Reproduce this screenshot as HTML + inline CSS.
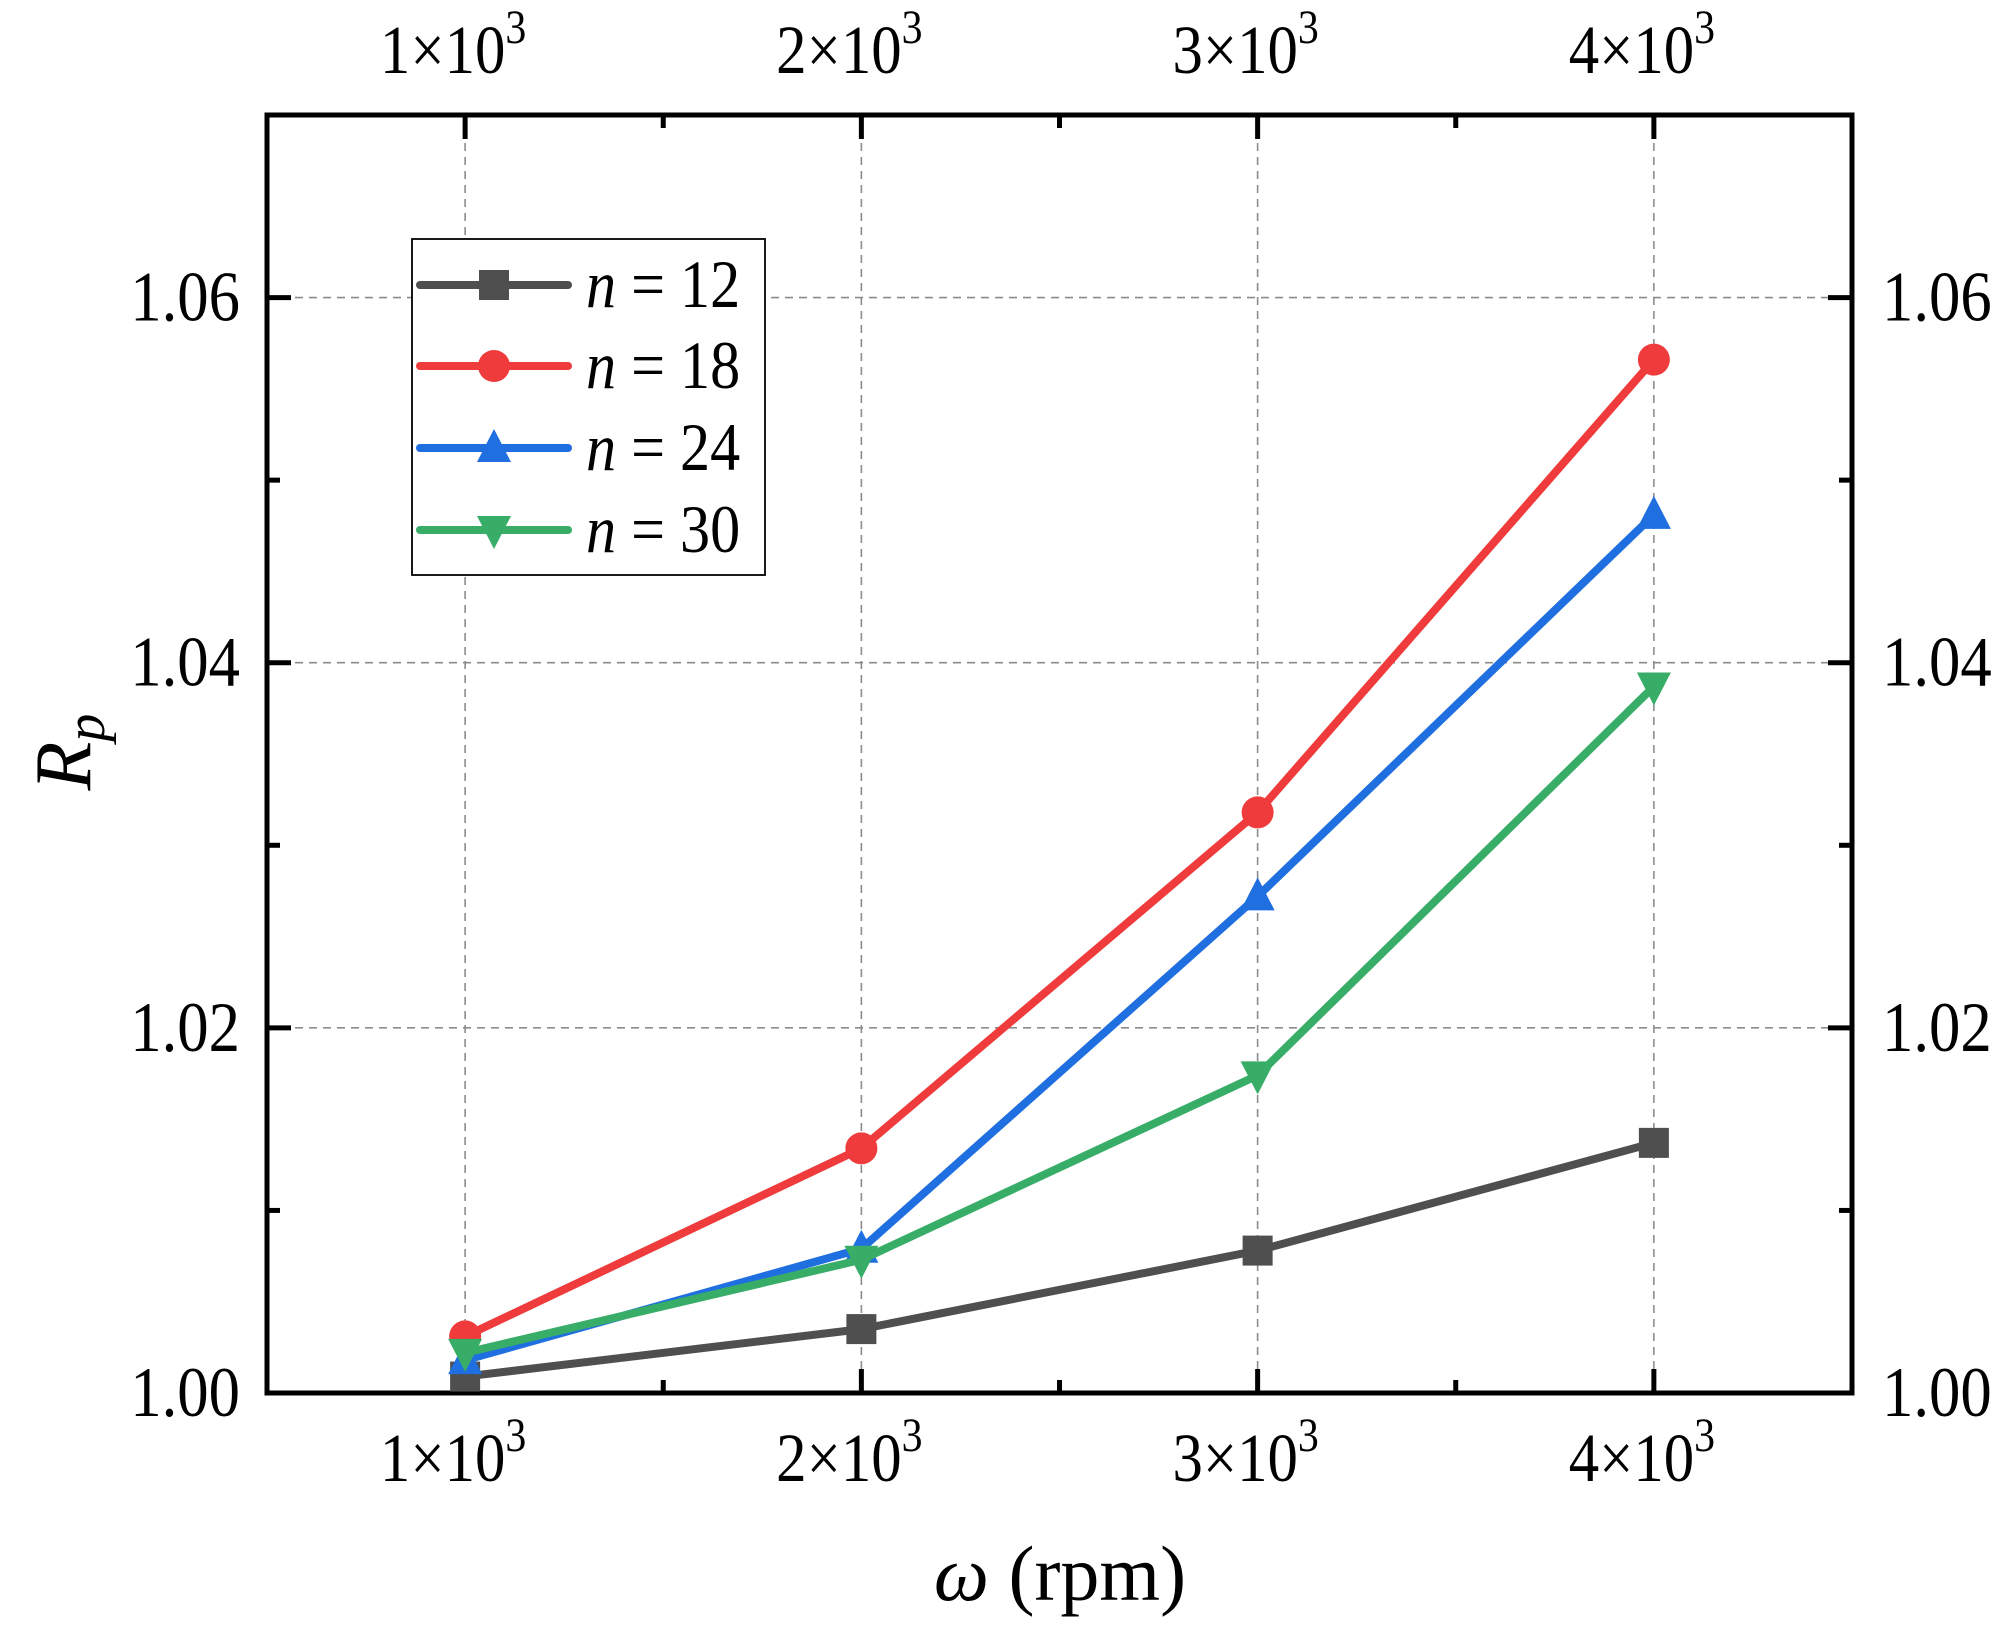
<!DOCTYPE html>
<html><head><meta charset="utf-8"><style>
html,body{margin:0;padding:0;background:#fff;}
svg{display:block;font-family:"Liberation Serif",serif;}
</style></head><body>
<svg id="chart" width="2000" height="1626" viewBox="0 0 2000 1626" xmlns="http://www.w3.org/2000/svg">
<g id="grid"></g>
<g id="axes"></g>
<g id="series"></g>
<g id="legend"></g>
</svg>
<script>
const xCats = [1000, 2000, 3000, 4000];
const xTickLabels = ["1\u00d710", "2\u00d710", "3\u00d710", "4\u00d710"];
const yTicks = [1.00, 1.02, 1.04, 1.06];
const yTickLabels = ["1.00", "1.02", "1.04", "1.06"];
const seriesNames = ["n = 12", "n = 18", "n = 24", "n = 30"];
const s12 = [1.0009, 1.0035, 1.0078, 1.0137];
const s18 = [1.0031, 1.0134, 1.0318, 1.0566];
const s24 = [1.0018, 1.0079, 1.0272, 1.0481];
const s30 = [1.0022, 1.0073, 1.0174, 1.0387];

const NS = "http://www.w3.org/2000/svg";
const L = 267, R = 1852, T = 115, B = 1393;
const xMin = 500, xMax = 4500, yMin = 1.0, yMax = 1.07;
const xs = v => L + (v - xMin) / (xMax - xMin) * (R - L);
const ys = v => B - (v - yMin) / (yMax - yMin) * (B - T);
function mk(tag, attrs, parent, text) {
  const e = document.createElementNS(NS, tag);
  for (const k in attrs) e.setAttribute(k, attrs[k]);
  if (text !== undefined) e.textContent = text;
  parent.appendChild(e);
  return e;
}
const grid = document.getElementById('grid');
const axes = document.getElementById('axes');
const series = document.getElementById('series');
const legend = document.getElementById('legend');

xCats.forEach(v => {
  const g = mk('line', {x1: xs(v), x2: xs(v), y1: T, y2: B, stroke: '#8c8c8c', 'stroke-width': 1.6, 'stroke-dasharray': '8,6'}, grid);
  
  
});
yTicks.forEach(v => {
  const g = mk('line', {x1: L, x2: R, y1: ys(v), y2: ys(v), stroke: '#8c8c8c', 'stroke-width': 1.6, 'stroke-dasharray': '8,6'}, grid);
  
  
});

const tk = {stroke: '#000', 'stroke-width': 5};
[500, 1000, 1500, 2000, 2500, 3000, 3500, 4000, 4500].forEach(v => {
  const major = xCats.includes(v);
  const len = major ? 24 : 13;
  const a = mk('line', Object.assign({x1: xs(v), x2: xs(v), y1: B, y2: B - len}, tk), axes);
  
  
  const b = mk('line', Object.assign({x1: xs(v), x2: xs(v), y1: T, y2: T + len}, tk), axes);
  
  
});
for (let i = 0; i <= 7; i++) {
  const v = 1.0 + i * 0.01;
  const major = i % 2 === 0 && i <= 6;
  const len = major ? 24 : 13;
  const a = mk('line', Object.assign({x1: L, x2: L + len, y1: ys(v), y2: ys(v)}, tk), axes);
  
  
  const b = mk('line', Object.assign({x1: R, x2: R - len, y1: ys(v), y2: ys(v)}, tk), axes);
  
  
}
const frame = mk('rect', {x: L, y: T, width: R - L, height: B - T, fill: 'none', stroke: '#000', 'stroke-width': 5}, axes);



xCats.forEach((v, i) => {
  [[1481, 'x-tick-label-bottom'], [73, 'x-tick-label-top']].forEach(([y, nm]) => {
    const t = mk('text', {x: xs(v) - 12, y: y, 'font-size': 64, 'text-anchor': 'middle', transform: `translate(${xs(v)-12},${y}) scale(0.95,1.08) translate(${-(xs(v)-12)},${-y})`}, axes, xTickLabels[i]);
    mk('tspan', {dy: -28, 'font-size': 44}, t, '3');
    
    
  });
});
yTicks.forEach((v, i) => {
  const y = ys(v) + 23;
  const a = mk('text', {x: 240, y: y, 'font-size': 66, 'text-anchor': 'end', transform: `translate(240,${y}) scale(0.95,1.08) translate(-240,${-y})`}, axes, yTickLabels[i]);
  
  
  const b = mk('text', {x: 1882, y: y, 'font-size': 66, 'text-anchor': 'start', transform: `translate(1882,${y}) scale(0.95,1.08) translate(-1882,${-y})`}, axes, yTickLabels[i]);
  
  
});
const xt = mk('text', {x: 1060, y: 1600, 'font-size': 78, 'text-anchor': 'middle'}, axes);
mk('tspan', {'font-style': 'italic'}, xt, 'ω');
mk('tspan', {}, xt, ' (rpm)');


const yt = mk('text', {x: 0, y: 0, 'font-size': 80, 'text-anchor': 'middle', transform: 'translate(90,752) rotate(-90)', 'font-style': 'italic'}, axes);
mk('tspan', {}, yt, 'R');
mk('tspan', {'font-size': 56, dy: 14}, yt, 'p');



const colors = ['#4f4f4f', '#ef3b3b', '#1f6fe0', '#38ad68'];
const shapes = ['square', 'circle', 'up', 'down'];
const allData = [s12, s18, s24, s30];
function marker(shape, cx, cy, color, parent) {
  let m;
  if (shape === 'square') m = mk('rect', {x: cx - 15, y: cy - 15, width: 30, height: 30, fill: color}, parent);
  else if (shape === 'circle') m = mk('circle', {cx: cx, cy: cy, r: 16, fill: color}, parent);
  else if (shape === 'up') m = mk('polygon', {points: `${cx},${cy - 19} ${cx - 17},${cy + 14} ${cx + 17},${cy + 14}`, fill: color}, parent);
  else m = mk('polygon', {points: `${cx},${cy + 19} ${cx - 17},${cy - 14} ${cx + 17},${cy - 14}`, fill: color}, parent);
  return m;
}
allData.forEach((d, si) => {
  const g = mk('g', {}, series);
  
  
  const pts = d.map((v, i) => xs(xCats[i]) + ',' + ys(v)).join(' ');
  const pl = mk('polyline', {points: pts, fill: 'none', stroke: colors[si], 'stroke-width': 8, 'stroke-linejoin': 'round'}, g);
  
  
  d.forEach((v, i) => {
    const m = marker(shapes[si], xs(xCats[i]), ys(v), colors[si], g);
    
    
  });
});

const lb = mk('rect', {x: 412, y: 239, width: 353, height: 336, fill: '#fff', stroke: '#000', 'stroke-width': 1.8}, legend);


const rowsY = [285, 366, 448, 530];
seriesNames.forEach((nm, i) => {
  const g = mk('g', {}, legend);
  
  
  mk('line', {x1: 420, x2: 568, y1: rowsY[i], y2: rowsY[i], stroke: colors[i], 'stroke-width': 8, 'stroke-linecap': 'round'}, g);
  marker(shapes[i], 494, rowsY[i], colors[i], g);
  const y = rowsY[i] + 22;
  const t = mk('text', {x: 586, y: y, 'font-size': 62, transform: `translate(586,${y}) scale(0.97,1.1) translate(-586,${-y})`}, g);
  mk('tspan', {'font-style': 'italic'}, t, 'n');
  mk('tspan', {}, t, nm.slice(1));
});
</script>
</body></html>
